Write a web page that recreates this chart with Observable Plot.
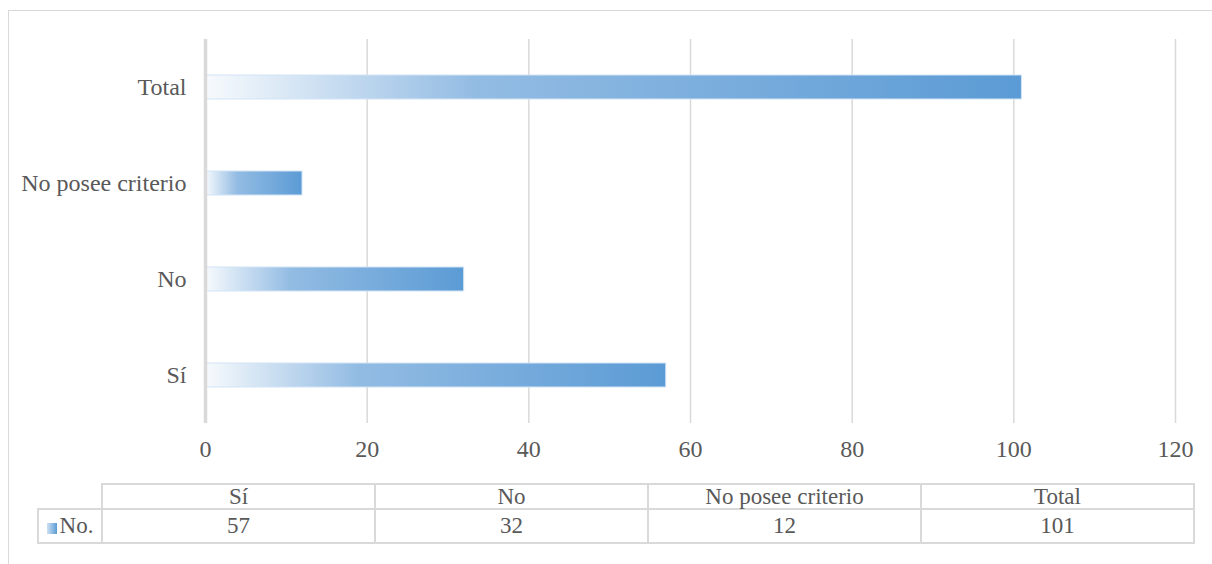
<!DOCTYPE html>
<html>
<head>
<meta charset="utf-8">
<script src="https://cdn.jsdelivr.net/npm/d3@7"></script>
<script src="https://cdn.jsdelivr.net/npm/@observablehq/plot@0.6"></script>
<style>
  html, body { margin: 0; padding: 0; background: #fff; }
  body { width: 1212px; height: 564px; position: relative; overflow: hidden; font-family: "Liberation Serif", "Times New Roman", serif; }
  #frame { position: absolute; left: 8px; top: 10px; width: 1300px; height: 700px; border: 1px solid #d9d9d9; box-sizing: border-box; }
  #chart { position: absolute; left: 0; top: 0; }
  table.dt { position: absolute; left: 37px; top: 483px; border-collapse: collapse; font-family: "Liberation Serif", "Times New Roman", serif; font-size: 23px; color: #595959; }
  table.dt td { border: 2px solid #d9d9d9; text-align: center; padding: 0; line-height: 22px; }
  .key { display: inline-block; width: 10px; height: 11px; background: linear-gradient(to right, #cfe0f2, #5b9bd5); margin-right: 3px; vertical-align: -1px; }
</style>
</head>
<body>
<div id="frame"></div>
<div id="chart"></div>
<script>
const categories = ["Sí", "No", "No posee criterio", "Total"];
const values = [57, 32, 12, 101];
const seriesName = "No.";
const xTicks = [0, 20, 40, 60, 80, 100, 120];

const data = categories.map((c, i) => ({category: c, value: values[i]}));
const yOrder = categories.slice().reverse();

const chart = Plot.plot({
  width: 1212,
  height: 470,
  marginLeft: 205,
  marginRight: 37,
  marginTop: 39,
  marginBottom: 47,
  style: {fontFamily: "'Liberation Serif', 'Times New Roman', serif", fontSize: "24px", color: "#595959", background: "transparent"},
  x: {domain: [0, 120], ticks: xTicks, label: null, tickSize: 0, tickPadding: 16},
  y: {domain: yOrder, paddingInner: 0.75, paddingOuter: 0.375, label: null, tickSize: 0, tickPadding: 19},
  marks: [
    Plot.gridX(xTicks.filter(t => t > 0), {stroke: "#d9d9d9", strokeOpacity: 1, strokeWidth: 1.5}),
    Plot.barX(data, {x: "value", y: "category", fill: "url(#barGrad)", stroke: "#d2e4f5", strokeWidth: 1}),
    Plot.ruleX([0], {stroke: "#d9d9d9", strokeWidth: 3.5}),
    Plot.axisX({ticks: xTicks, tickSize: 0, tickPadding: 16, fill: "#595959"}),
    Plot.axisY({tickSize: 0, tickPadding: 19, fill: "#595959"})
  ]
});

const svg = d3.select(chart);
const defs = svg.insert("defs", ":first-child");
const g = defs.append("linearGradient").attr("id", "barGrad").attr("x1", "0").attr("x2", "1").attr("y1", "0").attr("y2", "0");
g.append("stop").attr("offset", "0").attr("stop-color", "#f7fafd");
g.append("stop").attr("offset", "0.33").attr("stop-color", "#93bce3");
g.append("stop").attr("offset", "1").attr("stop-color", "#5b9bd5");

document.getElementById("chart").appendChild(chart);

// data table below the chart
const table = document.createElement("table");
table.className = "dt";
const hdr = table.insertRow();
const blank = hdr.insertCell();
blank.style.border = "none";
blank.style.borderRight = "2px solid #d9d9d9";
blank.style.width = "63px";
categories.forEach(c => {
  const td = hdr.insertCell();
  td.textContent = c;
  td.style.width = "271px";
  td.style.height = "23px";
});
const row = table.insertRow();
const lab = row.insertCell();
lab.innerHTML = '<span class="key"></span>' + seriesName;
lab.style.height = "32px";
values.forEach(v => {
  const td = row.insertCell();
  td.textContent = v;
});
document.body.appendChild(table);
</script>
</body>
</html>
